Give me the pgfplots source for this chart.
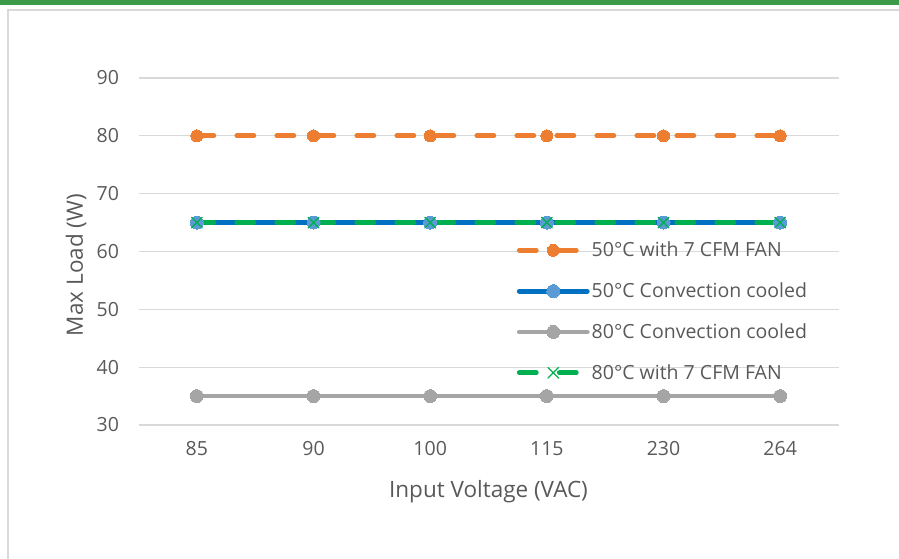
\documentclass[border=0pt]{standalone}
\usepackage{fontspec}
\setmainfont{Open Sans}
\usepackage{pgfplots}
\pgfplotsset{compat=1.18}
\definecolor{cOrange}{HTML}{ED7D31}
\definecolor{cBlue}{HTML}{0070C0}
\definecolor{cBlueM}{HTML}{5B9BD5}
\definecolor{cGray}{HTML}{A5A5A5}
\definecolor{cGreen}{HTML}{00B050}
\definecolor{cText}{HTML}{595959}
\definecolor{cGrid}{HTML}{D9D9D9}
\definecolor{cBar}{HTML}{3A9A47}
\begin{document}
\begin{tikzpicture}
\path[use as bounding box] (0,0) rectangle (899pt,559pt);
\fill[cBar] (0,553.5pt) rectangle (899pt,559pt);
\draw[cGrid, line width=2pt] (8pt,-5pt) -- (8pt,549pt) -- (905pt,549pt);
\begin{axis}[
  at={(138.5pt,134pt)}, anchor=south west,
  scale only axis, width=700pt, height=347pt,
  xmin=-0.5, xmax=5.5, ymin=30, ymax=90,
  xtick={0,1,2,3,4,5}, xticklabels={85,90,100,115,230,264},
  ytick={30,40,50,60,70,80,90},
  major tick length=0pt,
  axis line style={draw=none},
  ymajorgrids, major grid style={cGrid, line width=1.2pt},
  /pgf/number format/assume math mode=true,
  ticklabel style={font=\fontsize{19.5}{19.5}\selectfont, text=cText},
  yticklabel style={xshift=-16pt},
  xticklabel style={yshift=-13pt},
  xlabel={Input Voltage (VAC)}, ylabel={Max Load (W)},
  label style={font=\fontsize{22.5}{22.5}\selectfont, text=cText},
  xlabel style={at={(axis description cs:0.5,-0.193)}, anchor=center},
  ylabel style={at={(axis description cs:-0.089,0.461)}, anchor=center},
  legend style={at={(axis description cs:0.536,0.539)}, anchor=north west, draw=none, fill=none,
    font=\fontsize{19.5}{19.5}\selectfont, text=cText, row sep=20.5pt,
    /tikz/every even column/.append style={column sep=0pt}},
  legend cell align=left,
  legend image code/.code={\draw[mark repeat=2,mark phase=2,#1] plot coordinates {(0pt,0pt) (34pt,0pt) (68pt,0pt)};},
  clip=false,
]
\addplot[cOrange, line width=4.8pt, line cap=round, dash pattern=on 17pt off 23pt, mark=*, mark size=6pt, mark options={solid, fill=cOrange, draw=cOrange, line width=0pt}]
  coordinates {(0,80) (1,80) (2,80) (3,80) (4,80) (5,80)};
\addlegendentry{50°C with 7 CFM FAN}
\addplot[cBlue, line width=4.8pt, line cap=round, mark=*, mark size=6.5pt, mark options={fill=cBlueM, draw=cBlueM, line width=0pt}]
  coordinates {(0,65) (1,65) (2,65) (3,65) (4,65) (5,65)};
\addlegendentry{50°C Convection cooled}
\addplot[cGray, line width=4.8pt, line cap=round, mark=*, mark size=6.5pt, mark options={fill=cGray, draw=cGray, line width=0pt}]
  coordinates {(0,35) (1,35) (2,35) (3,35) (4,35) (5,35)};
\addlegendentry{80°C Convection cooled}
\addplot[cGreen, line width=4.8pt, line cap=round, dash pattern=on 17pt off 23pt, mark=x, mark size=7.5pt, mark options={solid, draw=cGreen, line width=1.3pt}]
  coordinates {(0,65) (1,65) (2,65) (3,65) (4,65) (5,65)};
\addlegendentry{80°C with 7 CFM FAN}
\end{axis}
\end{tikzpicture}
\end{document}
